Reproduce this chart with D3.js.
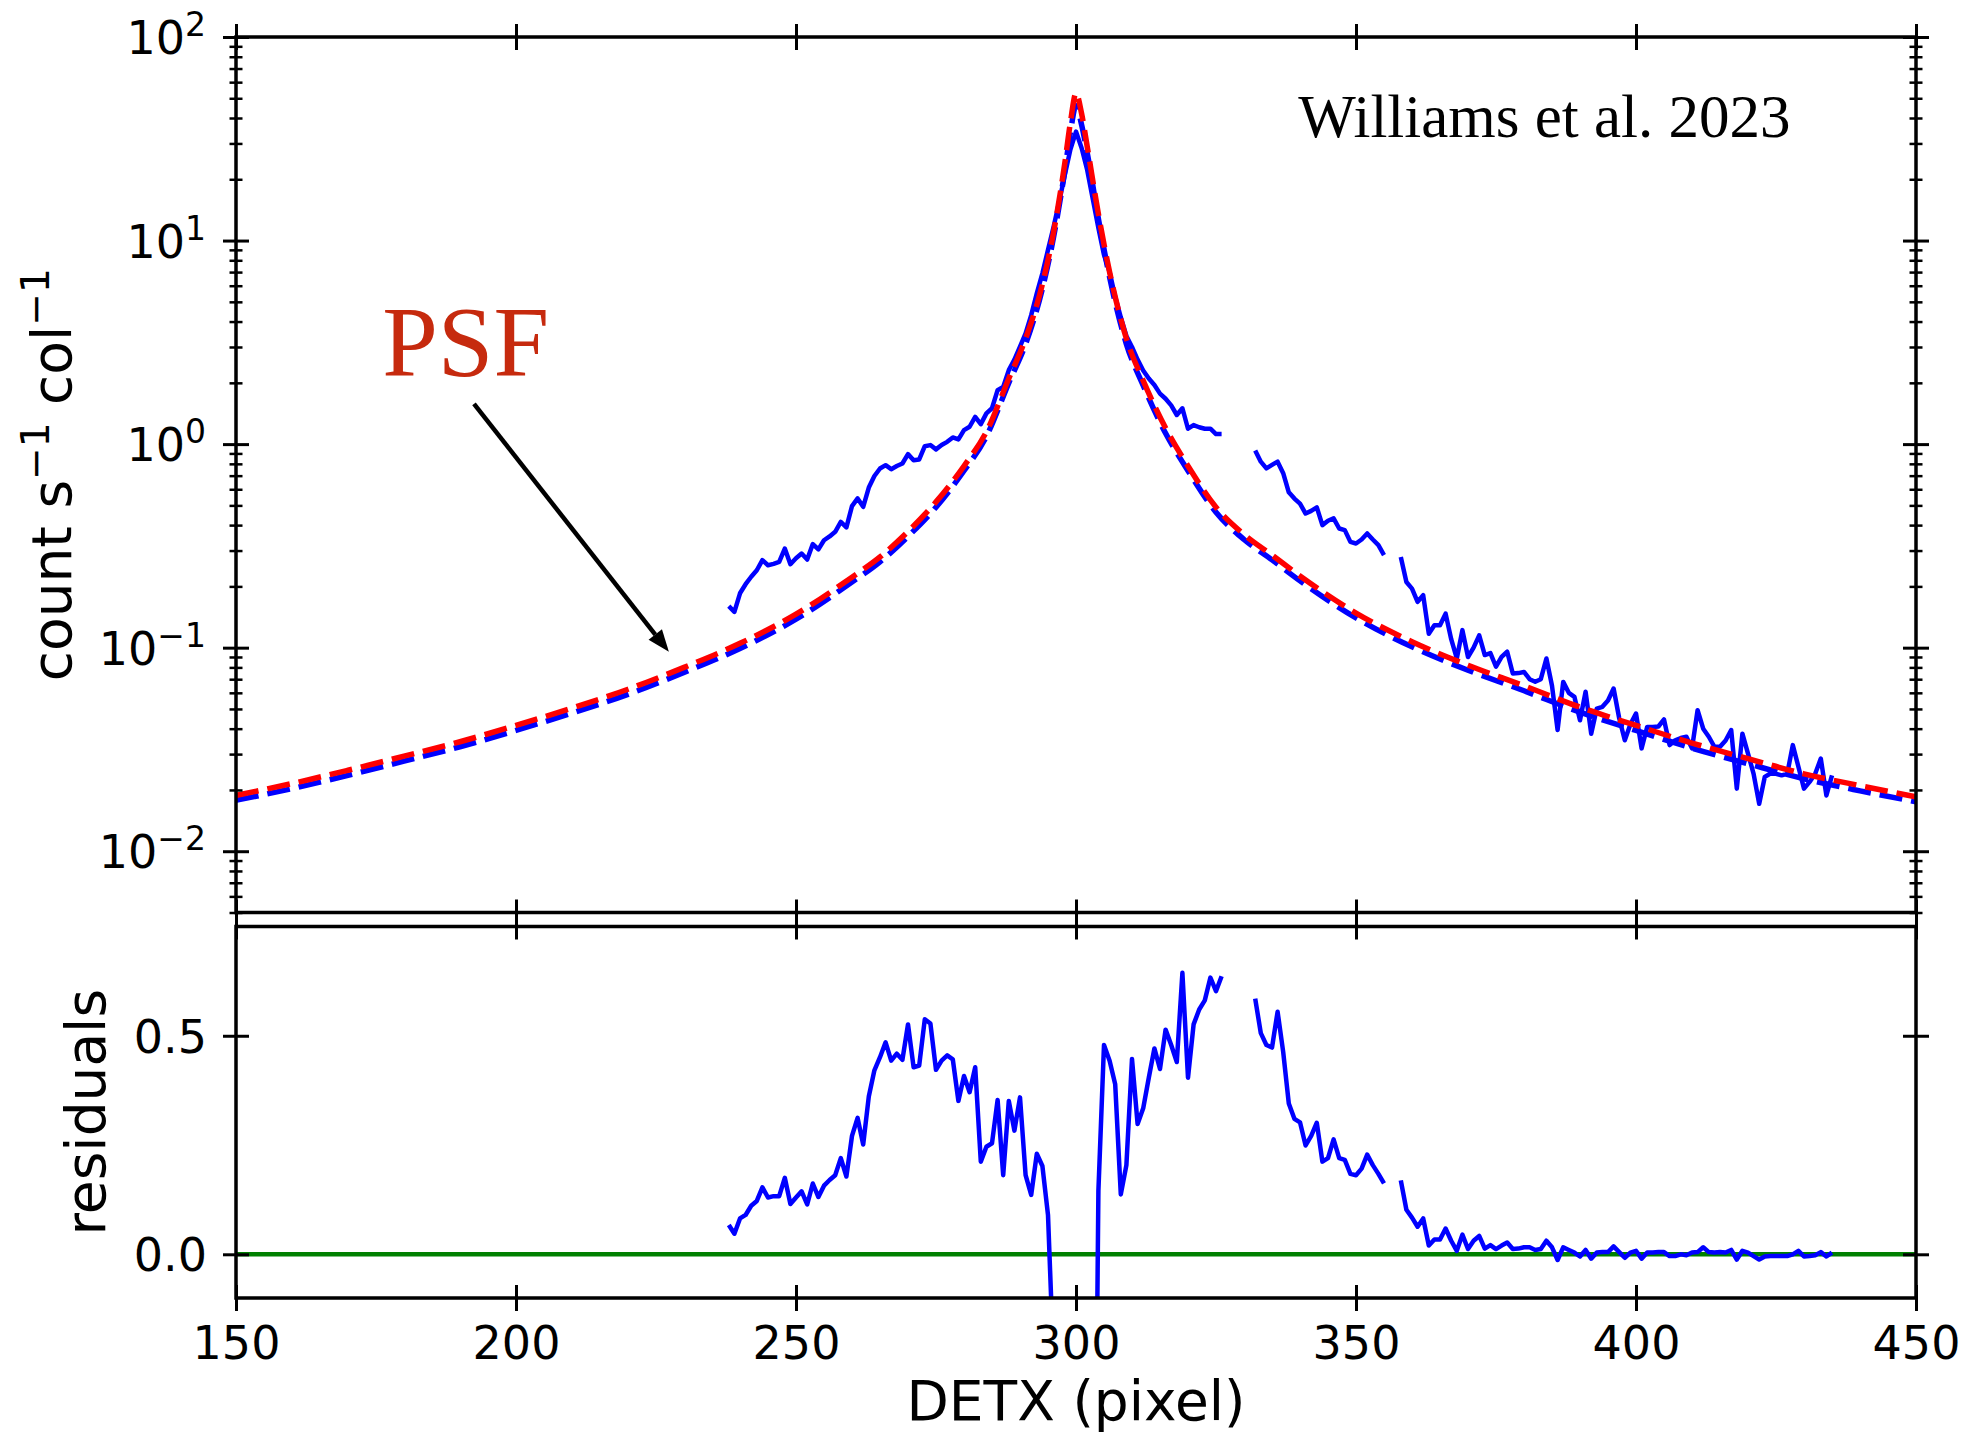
<!DOCTYPE html>
<html>
<head>
<meta charset="utf-8">
<script src="https://cdn.jsdelivr.net/npm/d3@7"></script>
<style>
  body { margin: 0; background: #fff; }
  svg { display: block; }
</style>
</head>
<body>
<svg id="chart"></svg>
<script>
// DETX pixel columns that have data (one value per column, null = no data)
const detx = d3.range(238, 436)

// observed profile, count s^-1 col^-1
const counts = [
    0.160, 0.150, 0.185, 0.205, 0.223, 0.240, 0.269, 0.254, 0.258, 0.264,
    0.307, 0.257, 0.275, 0.290, 0.271, 0.323, 0.304, 0.337, 0.352, 0.371,
    0.415, 0.390, 0.496, 0.541, 0.492, 0.612, 0.697, 0.759, 0.788, 0.753,
    0.780, 0.803, 0.893, 0.834, 0.841, 0.977, 0.989, 0.942, 0.990, 1.026,
    1.078, 1.054, 1.172, 1.217, 1.361, 1.254, 1.416, 1.50, 1.84, 1.91,
    2.31, 2.60, 3.01, 3.50, 4.30, 5.50, 6.90, 9.00, 11.7, 15.5,
    21.0, 28.0, 34.3, 28.5, 22.2, 16.0, 11.5, 8.5, 7.0, 5.3,
    4.2, 3.4, 3.0, 2.6, 2.3, 2.10, 1.95, 1.77, 1.67, 1.55,
    1.39, 1.50, 1.19, 1.24, 1.21, 1.19, 1.19, 1.12, 1.12, null,
    null, null, null, null, 0.93, 0.82, 0.76, 0.79, 0.82, 0.72,
    0.58, 0.54, 0.51, 0.456, 0.470, 0.489, 0.400, 0.420, 0.432, 0.385,
    0.378, 0.331, 0.325, 0.340, 0.364, 0.340, 0.319, 0.285, null, null,
    0.279, 0.210, 0.195, 0.168, 0.181, 0.117, 0.129, 0.129, 0.147, 0.110,
    0.0885, 0.122, 0.090, 0.100, 0.115, 0.092, 0.094, 0.0806, 0.090, 0.0955,
    0.0747, 0.075, 0.076, 0.070, 0.068, 0.070, 0.0885, 0.065, 0.0394, 0.0679,
    0.060, 0.0573, 0.044, 0.0607, 0.0378, 0.0502, 0.0512, 0.055, 0.063, 0.045,
    0.0351, 0.042, 0.0475, 0.032, 0.0408, 0.0408, 0.041, 0.0444, 0.0332, 0.0351,
    0.036, 0.0365, 0.032, 0.0493, 0.040, 0.0365, 0.0326, 0.0326, 0.035, 0.0394,
    0.0203, 0.0378, 0.0302, 0.024, 0.0171, 0.0232, 0.0241, 0.024, 0.0236, 0.024,
    0.0332, 0.026, 0.0203, 0.0219, 0.024, 0.0285, 0.0188, 0.0236
]

// residuals, same columns
const residuals = [
    0.067, 0.047, 0.082, 0.090, 0.111, 0.122, 0.153, 0.130, 0.133, 0.133,
    0.175, 0.115, 0.130, 0.144, 0.114, 0.162, 0.131, 0.157, 0.170, 0.181,
    0.220, 0.178, 0.271, 0.312, 0.251, 0.361, 0.421, 0.451, 0.485, 0.443,
    0.459, 0.445, 0.526, 0.428, 0.432, 0.538, 0.528, 0.422, 0.443, 0.455,
    0.446, 0.351, 0.408, 0.371, 0.428, 0.212, 0.246, 0.254, 0.353, 0.181,
    0.351, 0.283, 0.359, 0.181, 0.136, 0.230, 0.202, 0.090, -0.25, -1.5,
    -5.0, -12.0, -19.0, -12.0, -6.0, -1.2, 0.145, 0.479, 0.443, 0.389,
    0.137, 0.204, 0.447, 0.298, 0.334, 0.404, 0.471, 0.424, 0.514, 0.479,
    0.440, 0.644, 0.404, 0.526, 0.560, 0.581, 0.633, 0.602, 0.636, null,
    null, null, null, null, 0.585, 0.506, 0.479, 0.473, 0.555, 0.463,
    0.345, 0.310, 0.302, 0.249, 0.271, 0.301, 0.212, 0.220, 0.263, 0.220,
    0.216, 0.184, 0.181, 0.196, 0.228, 0.204, 0.184, 0.162, null, null,
    0.169, 0.102, 0.084, 0.063, 0.082, 0.020, 0.034, 0.034, 0.059, 0.031,
    0.008, 0.045, 0.012, 0.031, 0.042, 0.013, 0.021, 0.012, 0.020, 0.027,
    0.012, 0.013, 0.016, 0.016, 0.010, 0.012, 0.031, 0.016, -0.013, 0.016,
    0.010, 0.004, -0.005, 0.010, -0.010, 0.004, 0.005, 0.005, 0.018, 0.005,
    -0.008, 0.004, 0.008, -0.010, 0.004, 0.004, 0.005, 0.005, -0.004, -0.004,
    0.000, -0.002, 0.004, 0.005, 0.016, 0.005, 0.004, 0.005, 0.004, 0.010,
    -0.012, 0.008, 0.004, -0.004, -0.012, -0.005, -0.004, -0.004, -0.004, -0.004,
    0.000, 0.008, -0.005, -0.004, -0.002, 0.005, -0.005, 0.004
]

// model curves
const modelX = [150, 160, 170, 180, 190, 200, 210, 220, 230, 240, 250, 260, 265, 270, 275, 280, 284, 288, 291, 294, 296, 298, 299, 300,
    301, 302, 304, 306, 309, 312, 316, 320, 325, 330, 335, 340, 350, 360, 370, 380, 390, 400, 410, 420, 430, 440, 450]
const psfModel = [0.0188, 0.0215, 0.0250, 0.0293, 0.0345, 0.0415, 0.0505, 0.0625, 0.080, 0.105, 0.146, 0.222, 0.279, 0.372, 0.52, 0.78, 1.15, 2.1, 3.3, 6.1, 11.0, 24, 38, 53,
    42, 29, 13.5, 7.0, 3.3, 2.05, 1.2, 0.78, 0.49, 0.36, 0.285, 0.225, 0.148, 0.107, 0.082, 0.065, 0.051, 0.0415, 0.034, 0.0285, 0.024, 0.021, 0.0185]
const convModel = [0.0178, 0.0203, 0.0236, 0.0277, 0.0326, 0.0392, 0.0477, 0.059, 0.0756, 0.099, 0.138, 0.21, 0.264, 0.352, 0.49, 0.74, 1.09, 2.0, 3.1, 5.8, 10.4, 22, 34, 46,
    37, 27, 12.8, 6.6, 3.1, 1.94, 1.13, 0.74, 0.463, 0.34, 0.27, 0.213, 0.14, 0.101, 0.0775, 0.0614, 0.0482, 0.0392, 0.0321, 0.0269, 0.0227, 0.0198, 0.0175]

const xTicks = [150, 200, 250, 300, 350, 400, 450]
const decadeTicks = [0.01, 0.1, 1, 10, 100]
const residTicks = [0, 0.5]

const width = 1968
const height = 1436
const font = "DejaVu Sans"

const svg = d3.select('#chart')
    .attr("width", width)
    .attr("height", height)

const x = d3.scaleLinear().domain([150, 450]).range([236, 1916])
const yTop = d3.scaleLog().domain([0.005, 100]).range([912.5, 37])
const yBot = d3.scaleLinear().domain([-0.1, 0.75]).range([1298, 926.5])

const defs = svg.append("defs")
defs.append("clipPath").attr("id", "clipTop").append("rect")
    .attr("x", x.range()[0]).attr("y", yTop.range()[1])
    .attr("width", x.range()[1] - x.range()[0]).attr("height", yTop.range()[0] - yTop.range()[1])
defs.append("clipPath").attr("id", "clipBot").append("rect")
    .attr("x", x.range()[0]).attr("y", yBot.range()[1])
    .attr("width", x.range()[1] - x.range()[0]).attr("height", yBot.range()[0] - yBot.range()[1])

// ---- top panel ----
const topPanel = svg.append("g").attr("clip-path", "url(#clipTop)")

const modelLine = d3.line()
    .x(d => x(d[0]))
    .y(d => yTop(d[1]))
    .curve(d3.curveMonotoneX)

const dataLine = d3.line()
    .defined(d => d[1] != null)
    .x(d => x(d[0]))
    .y(d => yTop(d[1]))

topPanel.append("path")
    .attr("d", modelLine(modelX.map((v, i) => [v, convModel[i]])))
    .attr("fill", "none").attr("stroke", "#0000ff")
    .attr("stroke-width", 5.5).attr("stroke-dasharray", "23,9")

topPanel.append("path")
    .attr("d", dataLine(detx.map((v, i) => [v, counts[i]])))
    .attr("fill", "none").attr("stroke", "#0000ff")
    .attr("stroke-width", 4.5).attr("stroke-linejoin", "round")

topPanel.append("path")
    .attr("d", modelLine(modelX.map((v, i) => [v, psfModel[i]])))
    .attr("fill", "none").attr("stroke", "#ff0000")
    .attr("stroke-width", 5.5).attr("stroke-dasharray", "23,9")

// ---- bottom panel ----
const bottomPanel = svg.append("g").attr("clip-path", "url(#clipBot)")

bottomPanel.append("line")
    .attr("x1", x(150)).attr("x2", x(450))
    .attr("y1", yBot(0)).attr("y2", yBot(0))
    .attr("stroke", "#008000").attr("stroke-width", 4.5)

bottomPanel.append("path")
    .attr("d", d3.line()
        .defined(d => d[1] != null)
        .x(d => x(d[0]))
        .y(d => yBot(d[1]))(detx.map((v, i) => [v, residuals[i]])))
    .attr("fill", "none").attr("stroke", "#0000ff")
    .attr("stroke-width", 4.5).attr("stroke-linejoin", "round")

// ---- axes ----
// matplotlib style in-out ticks
function axisAt(axis, tx, ty, side, len, sw) {
    const g = svg.append("g")
        .attr("transform", `translate(${tx},${ty})`)
        .call(axis)
    g.select(".domain").remove()
    g.attr("font-family", font).attr("font-size", 46)
    const lines = g.selectAll(".tick line").attr("stroke", "#000").attr("stroke-width", sw)
    if (side === "left" || side === "right") lines.attr("x1", -len).attr("x2", len)
    else lines.attr("y1", -len).attr("y2", len)
    g.selectAll(".tick text").attr("fill", "#000")
    return g
}

const minorTicks = yTop.ticks().filter(v => Math.abs(Math.log10(v) - Math.round(Math.log10(v))) > 1e-6)

// top panel y, left with labels
const leftTop = axisAt(d3.axisLeft(yTop).tickValues(decadeTicks).tickFormat(() => "").tickSize(13).tickPadding(17),
    x(150), 0, "left", 13, 3)
leftTop.selectAll(".tick text").attr("dy", "0.36em").each(function (d) {
    const e = Math.round(Math.log10(d))
    const t = d3.select(this)
    t.append("tspan").text("10")
    t.append("tspan").attr("dy", -18).attr("font-size", 33).text(e < 0 ? "\u2212" + (-e) : e)
})
axisAt(d3.axisLeft(yTop).tickValues(minorTicks).tickFormat(""), x(150), 0, "left", 6.5, 2.5)
axisAt(d3.axisRight(yTop).tickValues(decadeTicks).tickFormat(""), x(450), 0, "right", 13, 3)
axisAt(d3.axisRight(yTop).tickValues(minorTicks).tickFormat(""), x(450), 0, "right", 6.5, 2.5)
axisAt(d3.axisTop(x).tickValues(xTicks).tickFormat(""), 0, yTop.range()[1], "top", 13, 3)
axisAt(d3.axisBottom(x).tickValues(xTicks).tickFormat(""), 0, yTop.range()[0], "bottom", 13, 3)

// bottom panel
axisAt(d3.axisLeft(yBot).tickValues(residTicks).tickFormat(d3.format(".1f")).tickSize(13).tickPadding(16),
    x(150), 0, "left", 13, 3).selectAll(".tick text").attr("dy", "0.36em")
axisAt(d3.axisRight(yBot).tickValues(residTicks).tickFormat(""), x(450), 0, "right", 13, 3)
axisAt(d3.axisTop(x).tickValues(xTicks).tickFormat(""), 0, yBot.range()[1], "top", 13, 3)
axisAt(d3.axisBottom(x).tickValues(xTicks).tickSize(13).tickPadding(15), 0, yBot.range()[0], "bottom", 13, 3)

// spines
function frame(ys) {
    svg.append("rect")
        .attr("x", x.range()[0]).attr("y", ys.range()[1])
        .attr("width", x.range()[1] - x.range()[0])
        .attr("height", ys.range()[0] - ys.range()[1])
        .attr("fill", "none").attr("stroke", "#000").attr("stroke-width", 3.5)
}
frame(yTop)
frame(yBot)

// axis titles
svg.append("text")
    .attr("x", (x.range()[0] + x.range()[1]) / 2).attr("y", 1420)
    .attr("text-anchor", "middle")
    .attr("font-family", font).attr("font-size", 55)
    .text("DETX (pixel)")

const yTitle = svg.append("text")
    .attr("transform", `translate(71,${(yTop.range()[0] + yTop.range()[1]) / 2}) rotate(-90)`)
    .attr("text-anchor", "middle")
    .attr("font-family", font).attr("font-size", 55)
yTitle.append("tspan").text("count s")
yTitle.append("tspan").attr("dy", -22).attr("font-size", 39).text("\u22121")
yTitle.append("tspan").attr("dy", 22).text(" col")
yTitle.append("tspan").attr("dy", -22).attr("font-size", 39).text("\u22121")

svg.append("text")
    .attr("transform", `translate(105,${(yBot.range()[0] + yBot.range()[1]) / 2}) rotate(-90)`)
    .attr("text-anchor", "middle")
    .attr("font-family", font).attr("font-size", 55)
    .text("residuals")

// annotations
svg.append("text")
    .attr("x", x(339.7)).attr("y", yTop(32.3))
    .attr("font-family", "Liberation Serif").attr("font-size", 61)
    .text("Williams et al. 2023")

svg.append("text")
    .attr("x", x(176.1)).attr("y", yTop(2.19))
    .attr("font-family", "Liberation Serif").attr("font-size", 100)
    .attr("fill", "#c62a0e")
    .text("PSF")

// arrow pointing at the PSF curve
const a0 = [x(192.5), yTop(1.576)]
const a1 = [x(227.3), yTop(0.0954)]
const ang = Math.atan2(a1[1] - a0[1], a1[0] - a0[0])
const headLen = 22, headW = 8.5
const base = [a1[0] - headLen * Math.cos(ang), a1[1] - headLen * Math.sin(ang)]
svg.append("line")
    .attr("x1", a0[0]).attr("y1", a0[1])
    .attr("x2", base[0]).attr("y2", base[1])
    .attr("stroke", "#000").attr("stroke-width", 4.5)
svg.append("path")
    .attr("d", d3.line()([
        a1,
        [base[0] + headW * Math.sin(ang), base[1] - headW * Math.cos(ang)],
        [base[0] - headW * Math.sin(ang), base[1] + headW * Math.cos(ang)]
    ]) + "Z")
    .attr("fill", "#000")
</script>
</body>
</html>
